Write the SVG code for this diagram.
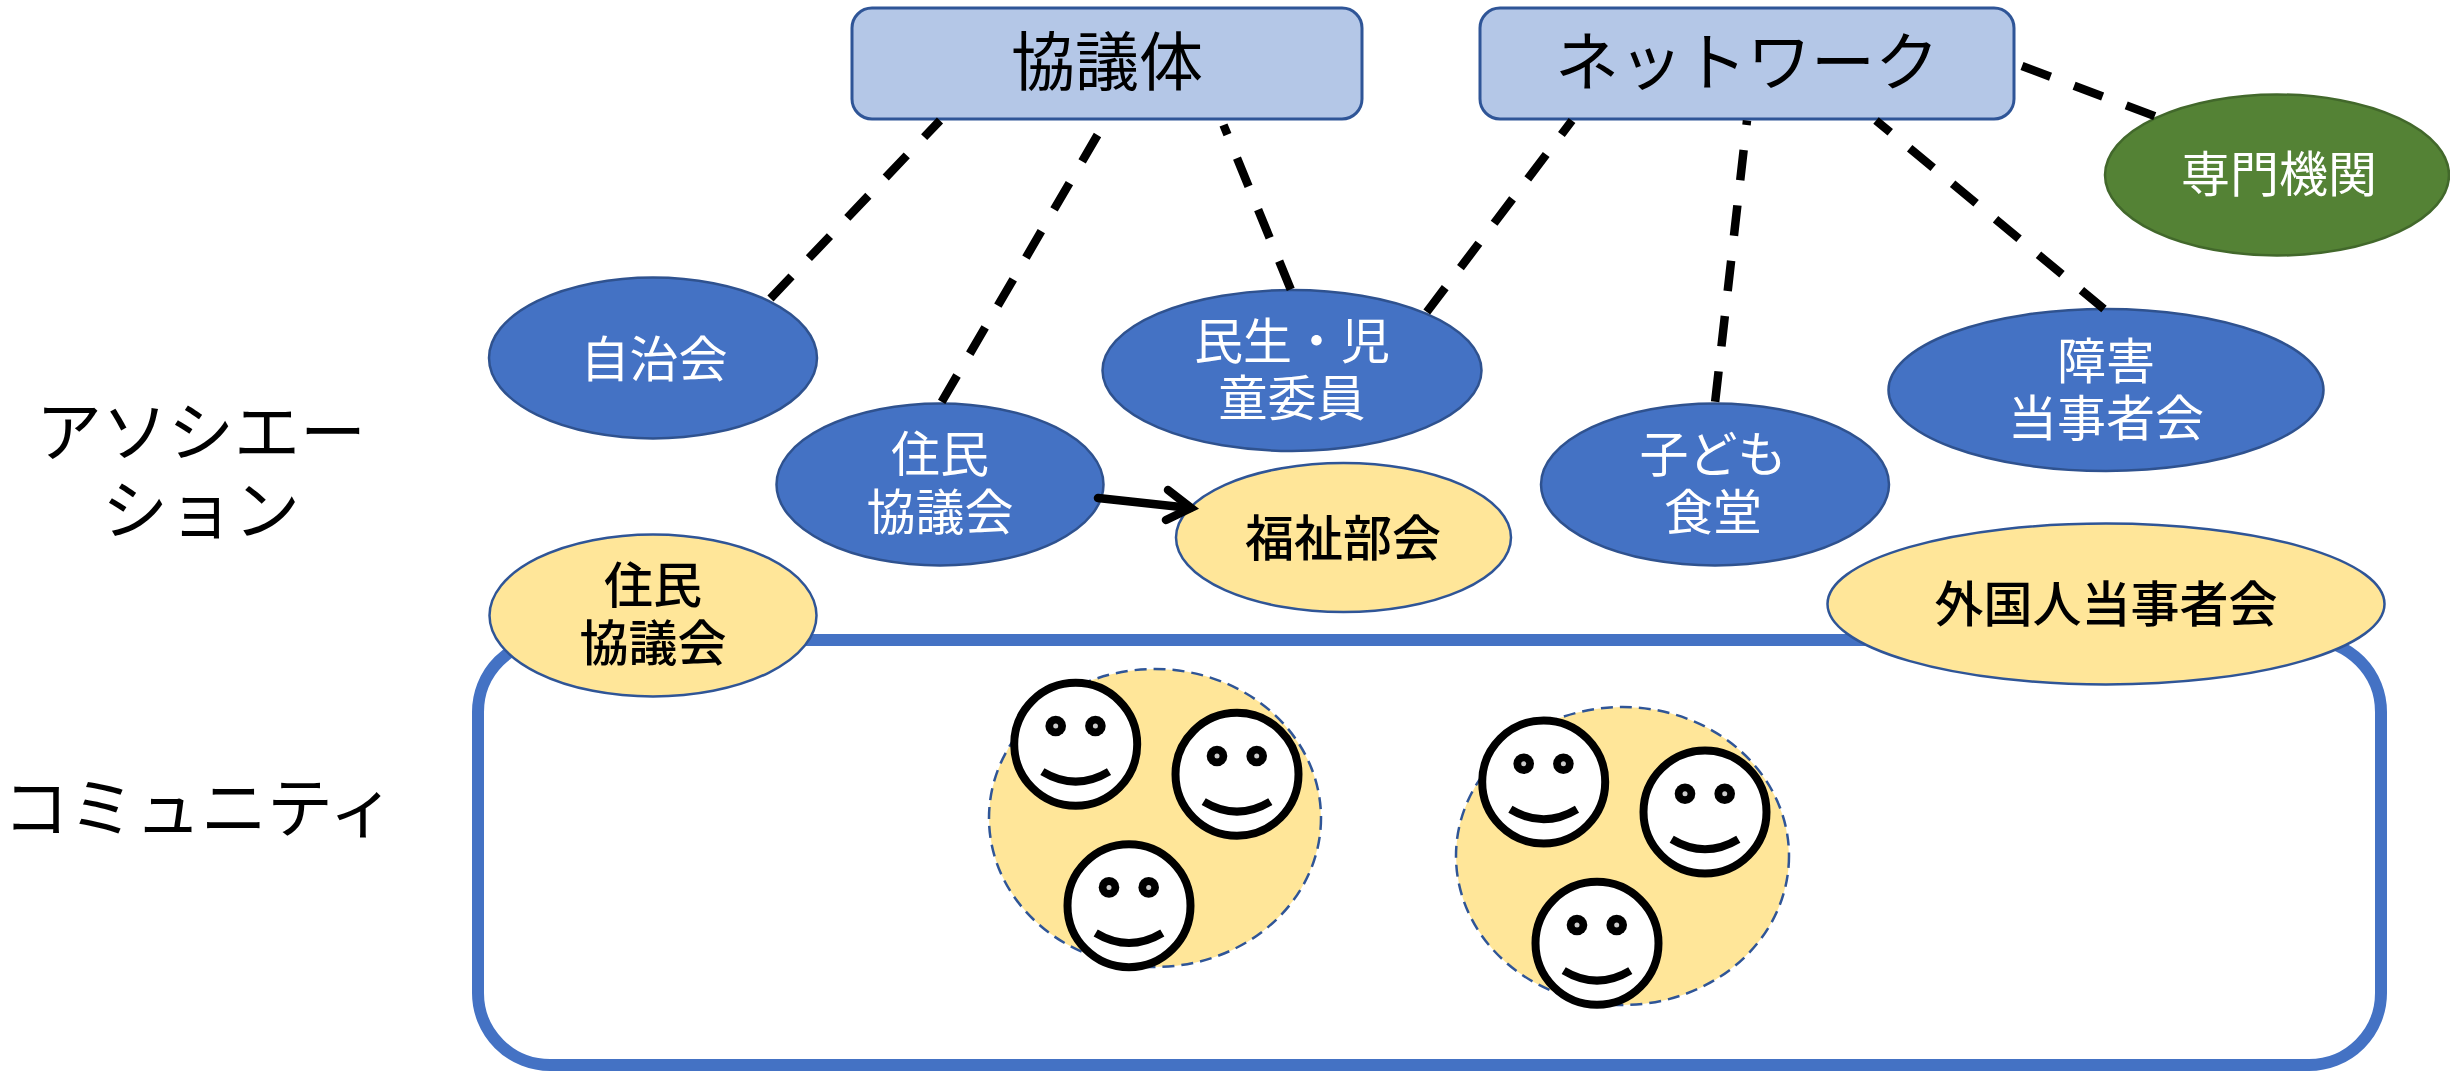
<svg xmlns="http://www.w3.org/2000/svg" width="2450" height="1071" viewBox="0 0 2450 1071">
<style>
text{font-family:"Noto Sans CJK JP","Noto Sans CJK SC",sans-serif;text-anchor:middle}
.t64{font-size:64px;fill:#000}
.t66{font-size:66px;fill:#000}
.w{font-size:49px;fill:#fff}
.k{font-size:49px;fill:#000;font-weight:500}
.box{fill:#B4C7E7;stroke:#2F5597;stroke-width:3}
.blue{fill:#4472C4;stroke:#2F528F;stroke-width:2.5}
.yel{fill:#FFE699;stroke:#2F5597;stroke-width:2.5}
.grn{fill:#548235;stroke:#42682B;stroke-width:2.5}
.grp{fill:#FFE699;stroke:#2F5597;stroke-width:2.5;stroke-dasharray:12 7}
.dash{fill:none;stroke:#000;stroke-width:8.5;stroke-dasharray:30.5 25.2}
.arrow{fill:none;stroke:#000;stroke-width:8.5;stroke-linecap:round;stroke-linejoin:miter}
</style>
<defs>
<g id="face">
<circle r="61.5" fill="#fff" stroke="#000" stroke-width="8"/>
<circle cx="-20" cy="-18.3" r="10.3" fill="#000"/><circle cx="-20" cy="-18.3" r="2.5" fill="#ccc"/>
<circle cx="19.7" cy="-18.3" r="10.3" fill="#000"/><circle cx="19.7" cy="-18.3" r="2.5" fill="#ccc"/>
<path d="M-33.3 27.3Q0 47.3 33.3 27.3" fill="none" stroke="#000" stroke-width="8"/>
</g>
</defs>
<rect width="2450" height="1071" fill="#fff"/>
<g id="label-association"><text class="t66" x="201" y="456">アソシエー</text><text class="t66" x="201" y="534">ション</text></g>
<g id="label-community"><text class="t66" x="199" y="832">コミュニティ</text></g>
<g id="community"><rect x="478" y="640" width="1903" height="425" rx="72" ry="72" fill="none" stroke="#4472C4" stroke-width="12"/></g>
<g id="group-1"><ellipse class="grp" cx="1155" cy="818" rx="166" ry="149"/>
<use href="#face" x="1075.7" y="744.3"/><use href="#face" x="1237" y="774.3"/><use href="#face" x="1129" y="905.7"/></g>
<g id="group-2"><ellipse class="grp" cx="1622.5" cy="856" rx="166.5" ry="149"/>
<use href="#face" x="1543.7" y="782"/><use href="#face" x="1705" y="812"/><use href="#face" x="1597" y="943.3"/></g>
<g id="kyogitai"><rect class="box" x="852" y="8" width="510" height="111" rx="20"/><text class="t64" x="1107" y="85">協議体</text></g>
<g id="network"><rect class="box" x="1480" y="8" width="534" height="111" rx="20"/><text class="t64" x="1747" y="85">ネットワーク</text></g>
<g id="senmon"><ellipse class="grn" cx="2277" cy="175" rx="172" ry="80.5"/><text class="w" x="2279" y="192">専門機関</text></g>
<g id="jichikai"><ellipse class="blue" cx="653" cy="358" rx="164" ry="80.5"/><text class="w" x="654" y="377">自治会</text></g>
<g id="jumin-blue"><ellipse class="blue" cx="940" cy="484.5" rx="163.5" ry="81"/><text class="w" x="940" y="472">住民</text><text class="w" x="940" y="530">協議会</text></g>
<g id="minsei"><ellipse class="blue" cx="1292" cy="370.5" rx="189.5" ry="80.5"/><text class="w" x="1292" y="359">民生・児</text><text class="w" x="1292" y="416">童委員</text></g>
<g id="kodomo"><ellipse class="blue" cx="1715" cy="484.5" rx="174" ry="81"/><text class="w" x="1713" y="472">子ども</text><text class="w" x="1713" y="530">食堂</text></g>
<g id="shogai"><ellipse class="blue" cx="2106" cy="390" rx="217.5" ry="81"/><text class="w" x="2106" y="379">障害</text><text class="w" x="2106" y="436">当事者会</text></g>
<g id="fukushi"><ellipse class="yel" cx="1343.5" cy="537.5" rx="167.5" ry="74.5"/><text class="k" x="1343" y="556">福祉部会</text></g>
<g id="jumin-yellow"><ellipse class="yel" cx="653" cy="615.5" rx="163.5" ry="81"/><text class="k" x="653" y="603">住民</text><text class="k" x="653" y="661">協議会</text></g>
<g id="gaikokujin"><ellipse class="yel" cx="2106" cy="604" rx="278.5" ry="80.5"/><text class="k" x="2106" y="622">外国人当事者会</text></g>
<g id="connectors">
<line class="dash" x1="940" y1="120.5" x2="770" y2="299" stroke-dashoffset="7.5"/>
<line class="dash" x1="1097.5" y1="135" x2="941" y2="403"/>
<line class="dash" x1="1223.5" y1="125" x2="1291" y2="290" stroke-dashoffset="20"/>
<line class="dash" x1="1572" y1="120.5" x2="1426" y2="313" stroke-dashoffset="13"/>
<line class="dash" x1="1747" y1="120.5" x2="1715" y2="403" stroke-dashoffset="26"/>
<line class="dash" x1="1876" y1="120.5" x2="2104" y2="309" stroke-dashoffset="12"/>
<line class="dash" x1="2022" y1="66" x2="2157" y2="117"/>
<path class="arrow" d="M1098 498L1190 508"/>
<path class="arrow" d="M1168 490L1191 508L1166 520"/>
</g>
</svg>
